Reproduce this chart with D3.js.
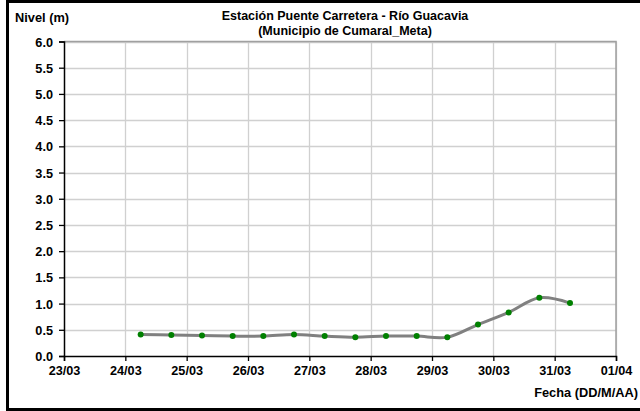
<!DOCTYPE html>
<html>
<head>
<meta charset="utf-8">
<script src="https://cdn.jsdelivr.net/npm/d3@7"></script>
<style>
  body { margin: 0; background: #fff; }
  svg { display: block; font-family: Arial, "Liberation Sans", sans-serif; font-weight: bold; }
</style>
</head>
<body>
<svg id="chart" width="640" height="411"></svg>
<script>
// lecturas cada 12 h (06:00 y 18:00)
var fechas = ["2024-03-24T06:00", "2024-03-24T18:00", "2024-03-25T06:00", "2024-03-25T18:00",
              "2024-03-26T06:00", "2024-03-26T18:00", "2024-03-27T06:00", "2024-03-27T18:00",
              "2024-03-28T06:00", "2024-03-28T18:00", "2024-03-29T06:00", "2024-03-29T18:00",
              "2024-03-30T06:00", "2024-03-30T18:00", "2024-03-31T06:00"];
var niveles = [0.41, 0.40, 0.39, 0.38, 0.38, 0.41, 0.38, 0.36, 0.38, 0.38, 0.36, 0.60, 0.83, 1.11, 1.01];
var yTicks = [0, 0.5, 1, 1.5, 2, 2.5, 3, 3.5, 4, 4.5, 5, 5.5, 6];
var xTicks = ["2024-03-23", "2024-03-24", "2024-03-25", "2024-03-26", "2024-03-27",
              "2024-03-28", "2024-03-29", "2024-03-30", "2024-03-31", "2024-04-01"];

var parse = d3.timeParse("%Y-%m-%dT%H:%M"),
    parseDay = d3.timeParse("%Y-%m-%d");

var datos = fechas.map(function(f, i) { return { t: parse(f), v: niveles[i] }; });
var dias = xTicks.map(parseDay);

var svg = d3.select("#chart");
var pLeft = 64, pRight = 616, pTop = 41.5, pBottom = 356;

var x = d3.scaleTime().domain([dias[0], dias[dias.length - 1]]).range([pLeft, pRight]);
var y = d3.scaleLinear().domain([0, 6]).range([pBottom, pTop]);

// marco exterior
svg.append("rect")
    .attr("x", 7.5).attr("y", 1.5).attr("width", 640).attr("height", 408)
    .attr("fill", "none").attr("stroke", "#000").attr("stroke-width", 3);

// rejilla
svg.append("g").selectAll("line").data(yTicks.slice(1)).enter().append("line")
    .attr("x1", pLeft).attr("x2", pRight)
    .attr("y1", function(d) { return Math.round(y(d)) + 0.5; })
    .attr("y2", function(d) { return Math.round(y(d)) + 0.5; })
    .attr("stroke", "#d0d0d0").attr("stroke-width", 1.3);
svg.append("g").selectAll("line").data(dias.slice(1)).enter().append("line")
    .attr("y1", pTop).attr("y2", pBottom)
    .attr("x1", function(d) { return Math.round(x(d)) + 0.5; })
    .attr("x2", function(d) { return Math.round(x(d)) + 0.5; })
    .attr("stroke", "#d0d0d0").attr("stroke-width", 1.3);

// borde gris superior y derecho
svg.append("path")
    .attr("d", "M" + pLeft + "," + pTop + "H" + pRight + "V" + pBottom)
    .attr("fill", "none").attr("stroke", "#a0a0a0").attr("stroke-width", 1.5);

// ejes
var yAxis = d3.axisLeft(y).tickValues(yTicks).tickFormat(d3.format(".1f")).tickSize(5).tickPadding(6);
var gy = svg.append("g").attr("transform", "translate(" + pLeft + ",0)").call(yAxis);
var xAxis = d3.axisBottom(x).tickValues(dias).tickFormat(d3.timeFormat("%d/%m")).tickSize(5).tickPadding(5);
var gx = svg.append("g").attr("transform", "translate(0," + pBottom + ")").call(xAxis);

[gy, gx].forEach(function(g) {
  g.select(".domain").attr("stroke", "#000").attr("stroke-width", 1.5);
  g.selectAll(".tick line").attr("stroke", "#000").attr("stroke-width", 1.3);
  g.selectAll("text").attr("fill", "#000")
    .style("font-size", "12.7px").style("font-weight", "bold")
    .style("font-family", "Arial, 'Liberation Sans', sans-serif");
});
gy.selectAll("text").attr("dy", "0.36em");

// serie
var linea = d3.line()
    .x(function(d) { return x(d.t); })
    .y(function(d) { return y(d.v); })
    .curve(d3.curveCatmullRom.alpha(0.5));

svg.append("path").datum(datos)
    .attr("d", linea)
    .attr("fill", "none").attr("stroke", "#808080").attr("stroke-width", 3);

svg.append("g").selectAll("circle").data(datos).enter().append("circle")
    .attr("cx", function(d) { return x(d.t); })
    .attr("cy", function(d) { return y(d.v); })
    .attr("r", 3)
    .attr("fill", "#008000");

// textos
svg.append("text").attr("x", 345).attr("y", 19.5).attr("text-anchor", "middle")
    .style("font-size", "12.5px").text("Estación Puente Carretera - Río Guacavia");
svg.append("text").attr("x", 345).attr("y", 35).attr("text-anchor", "middle")
    .style("font-size", "12.5px").text("(Municipio de Cumaral_Meta)");
svg.append("text").attr("x", 15).attr("y", 22)
    .style("font-size", "12.8px").text("Nivel (m)");
svg.append("text").attr("x", 638).attr("y", 397).attr("text-anchor", "end")
    .style("font-size", "12.8px").text("Fecha (DD/M/AA)");
</script>
</body>
</html>
